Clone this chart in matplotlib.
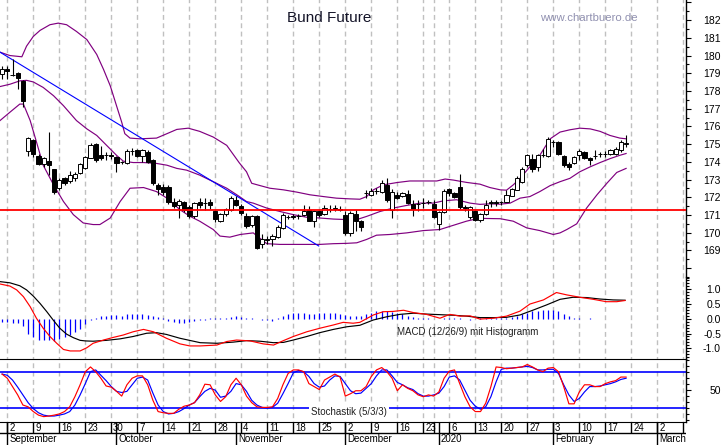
import matplotlib
matplotlib.use('Agg')
import matplotlib.pyplot as plt
import numpy as np
import pandas as pd

plt.rcParams['font.family'] = ['Liberation Sans', 'DejaVu Sans']

# Handelstage (Eurex), 30.08.2019 - 13.03.2020
holidays = ['2019-12-24', '2019-12-25', '2019-12-26', '2019-12-31', '2020-01-01']
days = pd.bdate_range('2019-08-30', '2020-03-13')
days = days[~days.isin(pd.to_datetime(holidays))]

# Kerzen (Bund Future)
opens = [178.94, 179.25, 178.92, 179.00, 178.57, 174.60, 175.25, 174.34, 173.90, 174.04,
         173.57, 172.51, 173.07, 172.92, 173.07, 173.37, 173.66, 174.24, 174.99, 174.41,
         174.38, 174.37, 174.28, 173.99, 173.96, 174.60, 174.65, 174.34, 174.56, 174.09,
         172.70, 172.60, 172.60, 171.73, 171.58, 171.73, 171.43, 170.92, 171.73, 171.68,
         171.76, 171.20, 170.68, 171.05, 171.30, 171.82, 171.48, 170.92, 170.46, 170.92,
         169.34, 169.62, 169.67, 169.75, 170.24, 170.90, 170.92, 170.93, 171.02, 171.26,
         170.68, 171.20, 171.05, 171.36, 171.35, 171.31, 171.02, 170.00, 171.05, 170.65,
         172.22, 172.14, 172.37, 172.27, 172.70, 171.30, 172.14, 172.08, 172.17, 171.60,
         171.64, 171.66, 171.74, 171.61, 170.50, 171.17, 172.45, 172.23, 172.56, 171.44,
         170.87, 171.20, 170.74, 171.05, 171.67, 171.72, 171.71, 171.76, 172.10, 172.42,
         172.84, 173.81, 174.18, 173.72, 174.36, 174.32, 175.11, 175.12, 174.33, 173.90,
         173.96, 174.41, 174.56, 174.22, 174.33, 174.42, 174.45, 174.43, 174.47, 174.65,
         175.02]
highs = [179.40, 179.40, 179.78, 179.05, 178.62, 175.40, 175.30, 174.45, 174.30, 175.68,
         173.60, 173.10, 173.15, 173.48, 173.40, 173.95, 174.32, 175.05, 175.05, 174.90,
         174.55, 174.55, 174.32, 174.05, 174.75, 174.80, 174.75, 174.75, 174.65, 174.18,
         172.80, 172.75, 172.70, 171.95, 171.90, 171.80, 171.58, 171.75, 171.95, 171.95,
         171.90, 171.30, 171.10, 171.40, 172.10, 172.05, 171.60, 171.10, 171.00, 171.00,
         169.90, 169.80, 169.90, 170.45, 171.10, 171.00, 171.05, 171.05, 171.58, 171.48,
         171.30, 171.30, 171.58, 171.58, 171.58, 171.50, 171.20, 171.20, 171.30, 170.70,
         172.42, 172.50, 172.50, 172.97, 173.07, 172.45, 172.29, 172.30, 172.42, 171.85,
         171.85, 171.95, 171.85, 171.85, 171.20, 172.47, 172.55, 172.30, 173.29, 171.58,
         171.50, 171.30, 171.10, 171.82, 171.85, 171.85, 171.80, 172.42, 172.55, 173.20,
         173.70, 174.47, 174.47, 174.47, 174.75, 175.40, 175.22, 175.15, 174.40, 174.00,
         174.35, 174.75, 174.62, 174.28, 174.65, 174.56, 174.60, 174.75, 174.82, 175.22,
         175.50]
lows = [178.70, 178.66, 178.85, 178.10, 177.08, 174.35, 174.28, 173.80, 173.72, 173.25,
        172.20, 172.40, 172.70, 172.80, 172.90, 173.30, 173.60, 174.20, 174.00, 174.10,
        174.10, 174.18, 173.40, 173.90, 173.90, 174.40, 174.30, 174.00, 173.95, 172.70,
        172.14, 172.14, 171.60, 171.40, 170.83, 171.15, 170.83, 170.85, 171.40, 171.30,
        171.35, 170.60, 170.60, 170.95, 171.20, 171.50, 171.00, 170.27, 170.30, 169.10,
        169.15, 169.35, 169.25, 169.70, 170.20, 170.75, 170.75, 170.80, 170.95, 170.64,
        170.30, 170.90, 171.00, 171.16, 171.20, 171.20, 169.86, 169.80, 170.10, 170.10,
        171.95, 172.05, 172.20, 172.22, 171.75, 170.83, 171.90, 172.00, 171.60, 170.93,
        171.20, 171.40, 171.60, 170.83, 170.18, 171.10, 172.10, 171.95, 171.35, 171.20,
        170.80, 170.65, 170.60, 171.00, 171.45, 171.50, 171.55, 171.72, 172.05, 172.40,
        172.80, 173.72, 173.44, 173.48, 174.28, 174.28, 174.85, 174.37, 173.70, 173.53,
        173.90, 174.10, 174.18, 173.81, 174.18, 174.28, 174.28, 174.37, 174.40, 174.56,
        174.85]
closes = [179.22, 179.13, 178.88, 178.75, 177.45, 175.34, 174.47, 173.85, 174.22, 173.81,
          172.27, 172.98, 172.82, 173.25, 173.29, 173.87, 174.28, 174.93, 174.09, 174.22,
          174.36, 174.35, 173.96, 173.97, 174.60, 174.62, 174.34, 174.65, 174.00, 172.79,
          172.47, 172.27, 171.73, 171.48, 171.81, 171.26, 170.92, 171.67, 171.54, 171.66,
          171.54, 170.78, 171.05, 171.35, 171.95, 171.58, 171.11, 170.37, 170.92, 169.15,
          169.62, 169.60, 169.80, 170.31, 170.98, 170.88, 170.90, 170.95, 171.20, 170.68,
          171.24, 170.98, 171.39, 171.34, 171.36, 171.29, 170.00, 171.11, 170.65, 170.31,
          172.24, 172.38, 172.35, 172.83, 171.82, 172.32, 171.95, 172.23, 171.67, 171.35,
          171.62, 171.68, 171.72, 170.87, 171.15, 172.36, 172.23, 172.04, 171.43, 171.42,
          171.43, 170.74, 171.05, 171.58, 171.72, 171.70, 171.73, 172.14, 172.45, 173.07,
          173.57, 174.37, 173.57, 174.37, 174.38, 175.30, 175.13, 174.47, 173.81, 173.72,
          174.28, 174.60, 174.24, 174.09, 174.35, 174.44, 174.47, 174.65, 174.75, 175.12,
          175.04]

# Bollinger-Baender (Handelstag-Index, Kurs)
bb_up_x = [-0.4, 1.5, 3.8, 4.7, 6.0, 7.3, 9.2, 10.8, 12.4, 14.3, 16.3, 18.2, 19.5, 20.8,
           22.0, 23.0, 23.6, 24.6, 26.5, 29.7, 31.7, 33.6, 35.8, 38.0, 40.6, 43.2, 45.6,
           47.0, 48.0, 49.6, 51.5, 54.1, 56.7, 59.2, 61.8, 64.3, 66.9, 68.8, 70.1, 71.4,
           73.3, 75.9, 78.4, 81.0, 83.6, 85.2, 86.8, 89.3, 91.9, 93.8, 95.8, 97.0, 98.3,
           99.6, 101.5, 103.4, 105.4, 107.3, 109.2, 111.1, 113.1, 115.0, 116.9, 118.8, 120.0]
bb_up = [180.19, 180.00, 179.93, 180.53, 181.08, 181.42, 181.74, 181.83, 181.74, 181.36,
         180.90, 180.06, 179.22, 178.29, 177.17, 176.24, 175.59, 175.34, 175.30, 175.34,
         175.59, 175.83, 175.90, 175.72, 175.40, 174.93, 173.95, 173.44, 172.79, 172.66,
         172.51, 172.42, 172.29, 172.14, 172.04, 171.95, 171.91, 171.89, 172.04, 172.42,
         172.70, 172.83, 172.92, 172.92, 172.92, 173.03, 172.97, 172.84, 172.74, 172.55,
         172.42, 172.40, 172.70, 173.07, 173.72, 174.37, 175.30, 175.68, 175.81, 175.90,
         175.86, 175.72, 175.49, 175.34, 175.30]
bb_mid_x = [-0.4, 1.5, 3.4, 4.7, 6.0, 7.9, 9.9, 11.8, 14.3, 16.3, 18.2, 20.1, 22.0, 23.3,
            25.2, 27.2, 29.7, 31.7, 33.6, 35.5, 38.0, 40.6, 43.2, 45.6, 47.0, 48.3, 50.9,
            53.4, 56.0, 58.6, 61.1, 63.7, 66.3, 68.2, 70.1, 72.7, 75.2, 77.8, 80.4, 82.9,
            84.9, 87.4, 90.0, 91.9, 93.8, 95.8, 97.7, 99.6, 101.5, 103.4, 105.4, 107.3,
            109.2, 111.1, 113.1, 115.0, 116.9, 118.8, 120.0]
bb_mid = [178.25, 178.38, 178.57, 178.60, 178.51, 178.20, 177.73, 177.17, 176.33, 175.86,
          175.49, 174.93, 174.37, 174.04, 173.96, 173.96, 173.91, 173.81, 173.63, 173.53,
          173.25, 172.88, 172.51, 172.05, 171.76, 171.67, 171.39, 171.20, 171.02, 170.87,
          170.83, 170.77, 170.74, 170.74, 170.92, 171.20, 171.39, 171.54, 171.67, 171.67,
          171.80, 171.86, 171.67, 171.60, 171.63, 171.61, 171.67, 171.95, 172.04, 172.32,
          172.66, 172.88, 173.07, 173.44, 173.72, 173.96, 174.18, 174.37, 174.47]
bb_low_x = [-0.4, 1.5, 3.4, 4.1, 5.4, 6.7, 7.9, 9.9, 11.8, 13.7, 15.6, 17.5, 18.8, 20.8,
            22.7, 24.6, 27.2, 29.7, 31.7, 34.2, 36.1, 38.0, 40.6, 41.9, 43.8, 45.8, 48.3,
            50.9, 53.4, 57.3, 61.1, 63.7, 66.3, 68.2, 70.1, 72.0, 74.6, 77.8, 81.0, 84.2,
            86.8, 89.3, 91.6, 95.8, 98.3, 100.9, 103.4, 106.0, 107.3, 108.6, 110.5, 112.4,
            114.4, 116.3, 118.2, 120.0]
bb_low = [176.33, 176.80, 177.26, 177.26, 176.33, 175.03, 173.81, 172.70, 171.76, 171.02,
          170.55, 170.46, 170.46, 170.83, 171.76, 172.51, 172.55, 172.32, 171.95, 171.30,
          170.93, 170.65, 170.18, 169.81, 169.75, 169.90, 169.99, 169.38, 169.34, 169.34,
          169.34, 169.38, 169.40, 169.43, 169.62, 169.86, 169.90, 169.99, 170.12, 170.18,
          170.42, 170.65, 170.81, 170.79, 170.65, 170.27, 170.12, 169.90, 169.99, 170.18,
          170.50, 171.39, 172.14, 172.79, 173.40, 173.63]

# Trendlinie und Unterstuetzung
trend_x = [-0.4, 60.9]
trend_y = [180.19, 169.25]
support = 171.30

# MACD (12/26/9)
macd_x = [-0.4, 1.5, 2.8, 4.1, 5.4, 6.6, 7.9, 9.2, 10.5, 11.8, 13.1, 15.0, 16.3, 17.5,
          19.5, 21.4, 23.3, 25.2, 27.2, 29.1, 31.6, 34.2, 36.1, 38.1, 41.3, 43.2, 45.1,
          47.7, 50.2, 52.2, 54.1, 56.0, 58.6, 61.1, 63.7, 65.6, 67.5, 68.8, 71.4, 73.3,
          75.2, 77.2, 79.1, 81.6, 84.2, 86.1, 88.1, 90.0, 91.9, 94.5, 97.0, 99.6, 101.5,
          104.1, 106.6, 108.6, 111.1, 113.7, 116.2, 118.2, 119.8]
macd = [1.18, 1.11, 0.98, 0.75, 0.41, 0.02, -0.32, -0.60, -0.83, -1.04, -1.09, -1.09, -0.98,
        -0.83, -0.72, -0.63, -0.55, -0.44, -0.36, -0.44, -0.66, -0.85, -0.92, -0.92, -0.89,
        -0.77, -0.72, -0.75, -0.85, -0.89, -0.74, -0.60, -0.44, -0.32, -0.21, -0.12, -0.15,
        -0.12, 0.13, 0.24, 0.25, 0.29, 0.21, 0.15, 0.02, 0.15, 0.09, 0.10, -0.01, 0.02, 0.09,
        0.26, 0.50, 0.64, 0.89, 0.81, 0.73, 0.66, 0.58, 0.58, 0.62]
signal_x = [-0.4, 1.5, 3.4, 4.7, 6.0, 7.3, 8.6, 9.9, 11.1, 12.4, 13.7, 15.0, 16.0, 17.5,
            20.1, 22.7, 25.2, 27.8, 29.7, 31.6, 34.2, 36.8, 38.1, 41.3, 44.5, 47.0, 49.6,
            52.2, 54.1, 56.0, 58.6, 61.1, 63.7, 66.3, 68.8, 71.4, 74.0, 76.5, 79.1, 81.6,
            84.2, 86.8, 89.3, 91.9, 94.5, 97.0, 99.6, 102.2, 104.7, 107.3, 109.8, 112.4,
            115.0, 117.5, 119.8]
signal = [1.26, 1.22, 1.12, 0.98, 0.77, 0.52, 0.24, -0.06, -0.32, -0.52, -0.64, -0.73, -0.75,
          -0.76, -0.73, -0.68, -0.60, -0.49, -0.47, -0.53, -0.66, -0.76, -0.81, -0.83, -0.79,
          -0.74, -0.76, -0.81, -0.80, -0.72, -0.60, -0.47, -0.36, -0.27, -0.22, -0.04, 0.07,
          0.15, 0.19, 0.16, 0.14, 0.12, 0.09, 0.04, 0.04, 0.05, 0.13, 0.30, 0.47, 0.66, 0.73,
          0.72, 0.67, 0.64, 0.63]
histo = [-0.10, -0.10, -0.13, -0.15, -0.25, -0.50, -0.61, -0.72, -0.72, -0.72,
         -0.74, -0.70, -0.61, -0.56, -0.45, -0.34, -0.18, -0.03, 0.03, 0.08,
         0.10, 0.12, 0.12, 0.10, 0.15, 0.15, 0.15, 0.15, 0.12, 0.08,
         0.05, 0.02, -0.08, -0.12, -0.15, -0.15, -0.12, -0.08, -0.05, -0.03,
         0.02, 0.02, 0.03, 0.02, 0.05, 0.08, 0.06, 0.04, 0.02, -0.02,
         -0.03, -0.05, -0.06, 0.02, 0.08, 0.15, 0.18, 0.18, 0.18, 0.16,
         0.17, 0.20, 0.18, 0.20, 0.18, 0.16, 0.12, 0.09, 0.08, 0.10,
         0.15, 0.20, 0.25, 0.27, 0.25, 0.23, 0.20, 0.15, 0.10, 0.05,
         0.02, 0.02, 0.02, -0.02, -0.02, 0.02, 0.02, 0.02, 0.02, -0.02,
         -0.03, -0.02, 0.02, 0.02, 0.02, 0.03, 0.03, 0.04, 0.06, 0.10,
         0.15, 0.20, 0.25, 0.28, 0.30, 0.31, 0.30, 0.25, 0.15, 0.08,
         0.03, 0.02, -0.02, 0.02, -0.02, -0.02, -0.02, -0.02, -0.02, -0.02,
         -0.02]

# Stochastik (5/3/3)
stoch_k = [77, 70, 56, 42, 25, 22, 14, 8, 5.5, 6.5, 8, 10, 14, 22, 39, 59, 81, 89, 81, 70,
           57, 55, 48, 40, 59, 70, 74, 74, 59, 33, 14, 12, 11, 11, 18, 23, 25, 29, 42, 60,
           59, 42, 31, 39, 59, 70, 59, 40, 29, 22, 21, 21, 22, 36, 59, 78, 84, 84, 81, 61,
           56, 51, 67, 72, 77, 72, 40, 44, 49, 49, 56, 73, 84, 88, 81, 70, 49, 59, 53, 49,
           42, 39, 42, 40, 47, 70, 82, 84, 61, 39, 22, 14, 14, 28, 56, 89, 88, 86, 87, 88,
           89, 93, 89, 84, 81, 87, 88, 81, 56, 27, 27, 47, 59, 59, 56, 56, 61, 64, 66, 72,
           72]
stoch_d = [77, 75, 67, 55, 42, 29, 19, 12, 8, 6.5, 6.5, 8, 10, 14, 25, 42, 61, 81, 84, 75,
           66, 56, 48, 46, 48, 59, 70, 72, 67, 45, 25, 14, 10, 11, 14, 19, 25, 29, 39, 48,
           53, 50, 38, 40, 48, 61, 59, 48, 33, 25, 21, 20, 21, 28, 44, 61, 79, 83, 81, 73,
           61, 55, 57, 67, 74, 73, 61, 49, 44, 45, 53, 61, 74, 84, 84, 74, 63, 59, 54, 51,
           44, 40, 40, 42, 45, 56, 72, 74, 67, 50, 33, 23, 18, 22, 39, 64, 85, 87, 87, 88,
           89, 90, 88, 84, 84, 85, 85, 78, 59, 42, 31, 36, 47, 56, 56, 57, 59, 61, 64, 68,
           70]

month_names = {1: '2020', 2: 'February', 3: 'March', 9: 'September', 10: 'October',
               11: 'November', 12: 'December'}

W, H = 723, 445
fig = plt.figure(figsize=(W / 100, H / 100), dpi=100)


def rect(top, bottom):
    return [0, 1 - bottom / H, 686 / W, (bottom - top) / H]


ax_p = fig.add_axes(rect(0, 277))
ax_m = fig.add_axes(rect(277, 359))
ax_s = fig.add_axes(rect(359, 422))
ax_d = fig.add_axes(rect(422, 445))

xlim = (-0.404, 131.52)
x = np.arange(len(closes))
o = np.array(opens)
c = np.array(closes)

# Wochen- und Monatsanfaenge
pos = np.arange(len(days))
wk = days.isocalendar().week.values
week_pos = [p for p in pos[1:] if wk[p] != wk[p - 1]]
week_lab = [str(days[p].day) for p in week_pos]
week_lab[week_pos.index(days.get_loc(pd.Timestamp('2019-12-30')))] = ''
month_pos = [p for p in pos[1:] if days[p].month != days[p - 1].month]
month_lab = [month_names[days[p].month] for p in month_pos]

grid_kw = dict(color='#c0c0c0', linewidth=1, linestyles=(0, (3.5, 2.5)), zorder=0)

# --- Kurs-Chart ---
ax_p.set_xlim(*xlim)
ax_p.set_ylim(167.64, 183.135)
ax_p.vlines(week_pos, 167, 184, **grid_kw)
ax_p.plot(bb_up_x, bb_up, color='#800080', lw=0.85, zorder=2)
ax_p.plot(bb_mid_x, bb_mid, color='#800080', lw=0.85, zorder=2)
ax_p.plot(bb_low_x, bb_low, color='#800080', lw=0.85, zorder=2)
ax_p.plot(trend_x, trend_y, color='#0000ff', lw=0.8, zorder=2)
ax_p.vlines(x, lows, highs, color='black', lw=0.8, zorder=3)
body = np.maximum(np.abs(c - o), 0.02)
ax_p.bar(x, body, bottom=np.minimum(o, c), width=0.8,
         color=['white' if cc > oo else 'black' for oo, cc in zip(o, c)],
         edgecolor='black', linewidth=0.7, zorder=4)
ax_p.axhline(support, color='#ff0000', lw=1.3, zorder=5)

# --- MACD ---
ax_m.set_xlim(*xlim)
ax_m.set_ylim(-1.363, 1.417)
ax_m.vlines(week_pos, -2, 2, **grid_kw)
ax_m.vlines(x, 0, histo, color='#0000ff', lw=0.9, zorder=2)
ax_m.plot(signal_x, signal, color='black', lw=0.85, zorder=3)
ax_m.plot(macd_x, macd, color='#ff0000', lw=0.85, zorder=3)
ax_m.text(75.9, -0.45, 'MACD (12/26/9) mit Histogramm', fontsize=7, ha='left',
          va='center', color='#202020')

# --- Stochastik ---
ax_s.set_xlim(*xlim)
ax_s.set_ylim(-3.53, 102.35)
ax_s.vlines(week_pos, -10, 110, **grid_kw)
ax_s.axhline(80, color='#0000ff', lw=1.2, zorder=2)
ax_s.axhline(20, color='#0000ff', lw=1.2, zorder=2)
ax_s.plot(x, stoch_d, color='#0000ff', lw=0.85, zorder=3)
ax_s.plot(x, stoch_k, color='#ff0000', lw=0.85, zorder=3)
ax_s.text(59.4, 13.8, 'Stochastik (5/3/3)', fontsize=7, ha='left', va='center',
          color='#202020', zorder=4,
          bbox=dict(boxstyle='square,pad=0.25', facecolor='white', edgecolor='none'))

# --- Rahmen und Achsen ---
pad = 25.2 - 3.6
for ax in (ax_p, ax_m, ax_s):
    ax.set_xticks([])
    for s in ('left', 'top', 'bottom'):
        ax.spines[s].set_visible(False)
    ax.spines['right'].set_linewidth(1.0)
    ax.yaxis.tick_right()
    ax.tick_params(axis='y', which='major', length=3.6, width=0.8, pad=pad, labelsize=7.5)
    ax.tick_params(axis='y', which='minor', length=2.2, width=0.8)
    ax.patch.set_visible(False)
ax_s.spines['top'].set_visible(True)

p_ticks = list(range(168, 184))
ax_p.set_yticks(p_ticks, [str(t) if 169 <= t <= 182 else '' for t in p_ticks])
ax_p.set_yticks(np.arange(167.5, 183.5, 1.0), minor=True)
m_ticks = [-1.0, -0.5, 0.0, 0.5, 1.0]
ax_m.set_yticks(m_ticks, ['-1.0', '-0.5', '0.0', '0.5', '1.0'])
ax_m.set_yticks(np.arange(-1.3, 1.45, 0.1), minor=True)
ax_s.set_yticks([50], ['50'])
ax_s.set_yticks([0, 10, 20, 30, 40, 60, 70, 80, 90, 100], minor=True)
for ax in (ax_p, ax_m, ax_s):
    for lab in ax.get_yticklabels():
        lab.set_horizontalalignment('right')

# --- Datumsleiste ---
ax_d.set_xlim(*xlim)
ax_d.set_ylim(0, 1)
ax_d.set_xticks([])
ax_d.set_yticks([])
for s in ('left', 'right', 'bottom'):
    ax_d.spines[s].set_visible(False)
ax_d.axhline(0.52, color='black', lw=1.0)
ax_d.vlines(week_pos, 0.52, 1, color='black', lw=1.0)
ax_d.vlines(month_pos, 0, 1, color='black', lw=1.0)
for p, lab in zip(week_pos, week_lab):
    ax_d.text(p + 0.35, 0.75, lab, fontsize=7, ha='left', va='center', clip_on=True)
for p, lab in zip(month_pos, month_lab):
    ax_d.text(p + 0.35, 0.25, lab, fontsize=7, ha='left', va='center', clip_on=True)

fig.text(329 / W, 1 - 18.3 / H, 'Bund Future', fontsize=11, ha='center', va='center',
         color='#141428')
fig.text(589 / W, 1 - 18 / H, 'www.chartbuero.de', fontsize=8.2, ha='center',
         va='center', color='#9090b0')

fig.savefig('out.png', dpi=100)
